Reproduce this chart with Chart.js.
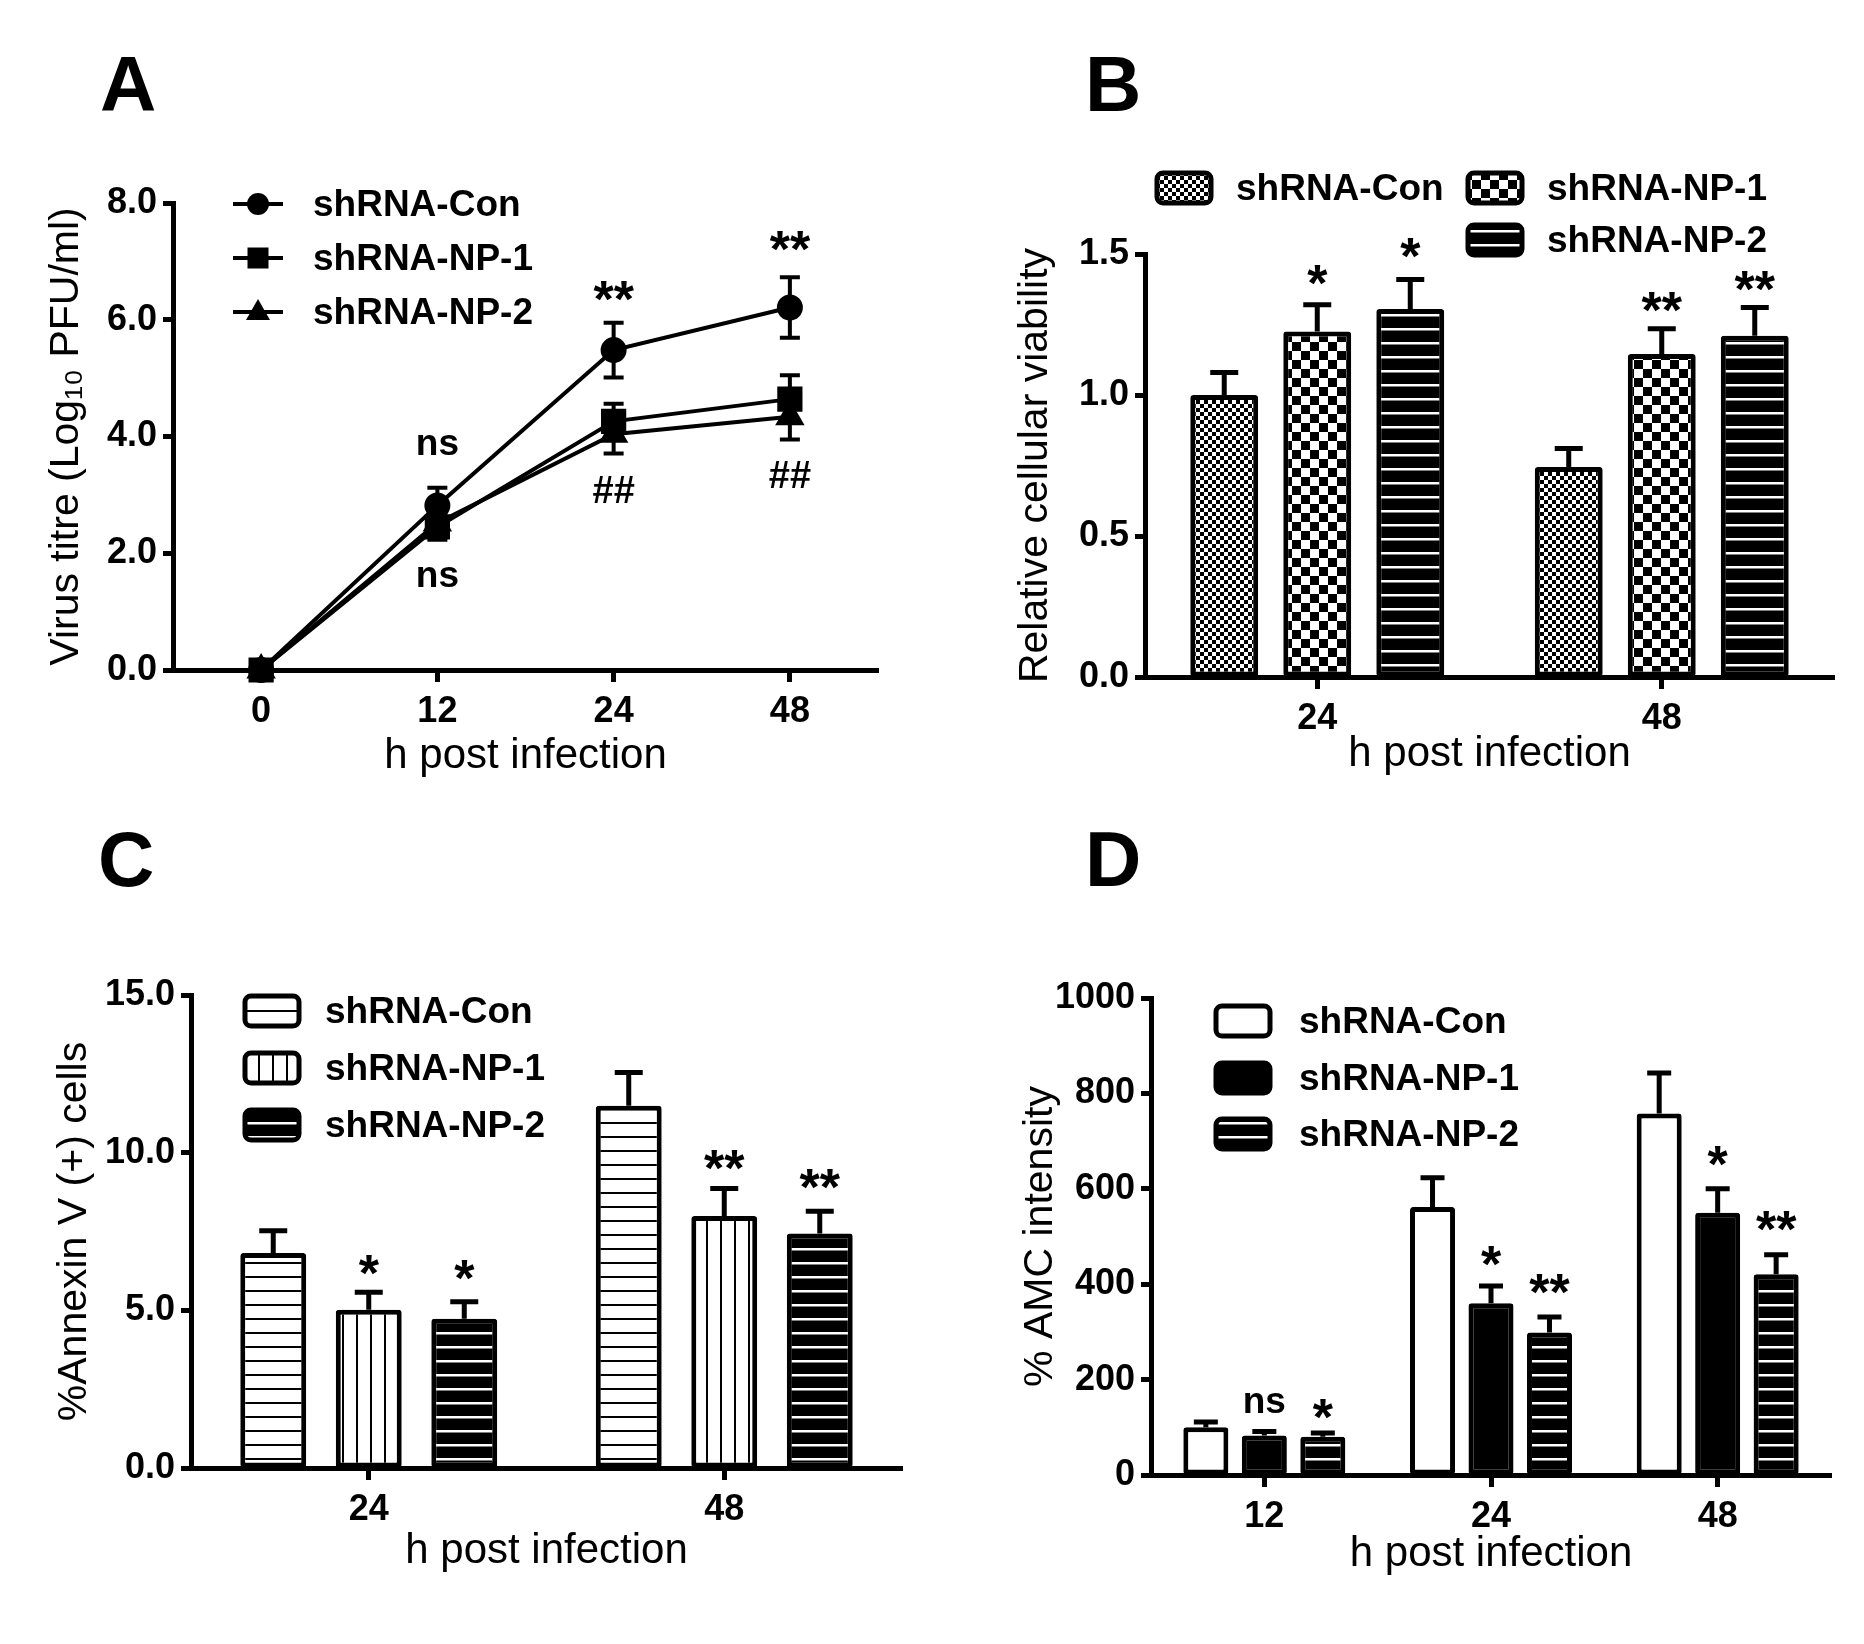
<!doctype html>
<html lang="en">
<head>
<meta charset="utf-8">
<title>shRNA NP knockdown panels</title>
<script src="https://cdn.jsdelivr.net/npm/chart.js@4.4.1/dist/chart.umd.min.js"></script>
<style>
  body { margin: 0; background: #fff; }
  .wrap { position: relative; width: 1864px; height: 1644px; background: #fff; }
  .panel { position: absolute; width: 932px; height: 822px; }
  .letter { position: absolute; font: bold 78px "Liberation Sans", Arial, sans-serif; line-height: 1; color: #000; }
</style>
</head>
<body>
<div class="wrap">
  <div class="panel" style="left:0;top:0"><canvas id="chartA" width="932" height="822"></canvas></div>
  <div class="panel" style="left:932px;top:0"><canvas id="chartB" width="932" height="822"></canvas></div>
  <div class="panel" style="left:0;top:822px"><canvas id="chartC" width="932" height="822"></canvas></div>
  <div class="panel" style="left:932px;top:822px"><canvas id="chartD" width="932" height="822"></canvas></div>
  <div class="letter" style="left:100px;top:45px">A</div>
  <div class="letter" style="left:1085px;top:45px">B</div>
  <div class="letter" style="left:98px;top:820px">C</div>
  <div class="letter" style="left:1085px;top:820px">D</div>
</div>

<script>
const FONT = '"Liberation Sans", Arial, sans-serif';
const seriesNames = ['shRNA-Con', 'shRNA-NP-1', 'shRNA-NP-2'];
const xTitle = 'h post infection';

// A - virus titre
const timesA = ['0', '12', '24', '48'];
const conA = [0, 2.82, 5.48, 6.21];
const np1A = [0, 2.45, 4.26, 4.64];
const np2A = [0, 2.52, 4.04, 4.34];
const errConA = [0, 0.3, 0.47, 0.52];
const errNp1A = [0, 0.22, 0.3, 0.41];
const errNp2A = [0, 0.2, 0.33, 0.39];
const yTicksA = ['0.0', '2.0', '4.0', '6.0', '8.0'];
const marksA = [
  {ds: 0, i: 1, y: 3.85, t: 'ns'}, {ds: 1, i: 1, y: 1.6, t: 'ns'},
  {ds: 0, i: 2, y: 6.5, t: '**'}, {ds: 0, i: 3, y: 7.35, t: '**'},
  {ds: 1, i: 2, y: 3.1, t: '##'}, {ds: 1, i: 3, y: 3.35, t: '##'}
];

// B - cellular viability
const timesB = ['24', '48'];
const conB = [1.0, 0.745];
const np1B = [1.225, 1.145];
const np2B = [1.305, 1.21];
const errConB = [0.08, 0.065];
const errNp1B = [0.095, 0.09];
const errNp2B = [0.105, 0.1];
const yTicksB = ['0.0', '0.5', '1.0', '1.5'];
const marksB = [
  {ds: 1, i: 0, y: 1.425, t: '*'}, {ds: 2, i: 0, y: 1.52, t: '*'},
  {ds: 1, i: 1, y: 1.33, t: '**'}, {ds: 2, i: 1, y: 1.405, t: '**'}
];

// C - annexin V
const timesC = ['24', '48'];
const conC = [6.82, 11.49];
const np1C = [5.02, 7.99];
const np2C = [4.73, 7.44];
const errConC = [0.7, 1.05];
const errNp1C = [0.55, 0.87];
const errNp2C = [0.54, 0.7];
const yTicksC = ['0.0', '5.0', '10.0', '15.0'];
const marksC = [
  {ds: 1, i: 0, y: 6.45, t: '*'}, {ds: 2, i: 0, y: 6.27, t: '*'},
  {ds: 1, i: 1, y: 9.78, t: '**'}, {ds: 2, i: 1, y: 9.17, t: '**'}
];

// D - AMC intensity
const timesD = ['12', '24', '48'];
const conD = [100, 562, 758];
const np1D = [83, 360, 550];
const np2D = [80, 299, 421];
const errConD = [11, 61, 85];
const errNp1D = [8, 36, 50];
const errNp2D = [8, 32, 41];
const yTicksD = ['0', '200', '400', '600', '800', '1000'];
const marksD = [
  {ds: 1, i: 0, y: 150, t: 'ns'}, {ds: 2, i: 0, y: 138, t: '*'},
  {ds: 1, i: 1, y: 460, t: '*'}, {ds: 2, i: 1, y: 400, t: '**'},
  {ds: 1, i: 2, y: 668, t: '*'}, {ds: 2, i: 2, y: 532, t: '**'}
];

// fill patterns for the bars
function makePattern(kind) {
  const c = document.createElement('canvas');
  const x = c.getContext('2d');
  if (kind === 'fineChecker' || kind === 'checker') {
    const s = kind === 'fineChecker' ? 4 : 9;
    c.width = c.height = s * 2;
    x.fillStyle = '#fff'; x.fillRect(0, 0, s * 2, s * 2);
    x.fillStyle = '#000'; x.fillRect(0, 0, s, s); x.fillRect(s, s, s, s);
  } else if (kind === 'whiteLines') {
    c.width = 4; c.height = 14;
    x.fillStyle = '#000'; x.fillRect(0, 0, 4, 14);
    x.fillStyle = '#fff'; x.fillRect(0, 6, 4, 2.5);
  } else if (kind === 'blackLines') {
    c.width = 4; c.height = 14;
    x.fillStyle = '#fff'; x.fillRect(0, 0, 4, 14);
    x.fillStyle = '#000'; x.fillRect(0, 6, 4, 2);
  } else if (kind === 'vLines') {
    c.width = 14; c.height = 4;
    x.fillStyle = '#fff'; x.fillRect(0, 0, 14, 4);
    x.fillStyle = '#000'; x.fillRect(6, 0, 2, 4);
  }
  return x.createPattern(c, 'repeat');
}

function drawMarker(ctx, style, x, y) {
  ctx.beginPath();
  if (style === 'circle') ctx.arc(x, y, 11, 0, Math.PI * 2);
  else if (style === 'rect') ctx.rect(x - 10.5, y - 10.5, 21, 21);
  else { ctx.moveTo(x, y - 13); ctx.lineTo(x + 12, y + 8); ctx.lineTo(x - 12, y + 8); ctx.closePath(); }
  ctx.fill();
}

const errorBars = {
  id: 'errorBars',
  afterDatasetsDraw(chart) {
    const ctx = chart.ctx, ys = chart.scales.y;
    chart.data.datasets.forEach((ds, di) => {
      if (!ds.errors) return;
      chart.getDatasetMeta(di).data.forEach((el, i) => {
        const v = ds.data[i], e = ds.errors[i];
        if (!e) return;
        const top = ys.getPixelForValue(v + e);
        const bot = ys.getPixelForValue(ds.bothSides ? v - e : v);
        ctx.save();
        ctx.strokeStyle = '#000';
        ctx.lineWidth = ds.errWidth;
        ctx.beginPath();
        ctx.moveTo(el.x, bot); ctx.lineTo(el.x, top);
        ctx.moveTo(el.x - ds.capHalf, top); ctx.lineTo(el.x + ds.capHalf, top);
        if (ds.bothSides) { ctx.moveTo(el.x - ds.capHalf, bot); ctx.lineTo(el.x + ds.capHalf, bot); }
        ctx.stroke();
        ctx.restore();
      });
    });
  }
};

const sigMarks = {
  id: 'sigMarks',
  afterDraw(chart, args, o) {
    if (!o.marks) return;
    const ctx = chart.ctx, ys = chart.scales.y;
    ctx.save();
    ctx.fillStyle = '#000';
    ctx.textAlign = 'center';
    ctx.textBaseline = 'alphabetic';
    o.marks.forEach(m => {
      const size = m.t.indexOf('*') >= 0 ? 52 : (m.t === 'ns' ? 37 : 38);
      ctx.font = 'bold ' + size + 'px ' + FONT;
      const el = chart.getDatasetMeta(m.ds).data[m.i];
      const mt = ctx.measureText(m.t);
      const yc = ys.getPixelForValue(m.y);
      ctx.fillText(m.t, el.x, yc + (mt.actualBoundingBoxAscent - mt.actualBoundingBoxDescent) / 2);
    });
    ctx.restore();
  }
};

const panelLegend = {
  id: 'panelLegend',
  afterDraw(chart, args, o) {
    if (!o.spots) return;
    const ctx = chart.ctx;
    ctx.save();
    ctx.font = 'bold 37px ' + FONT;
    ctx.textBaseline = 'middle';
    chart.data.datasets.forEach((ds, i) => {
      const p = o.spots[i];
      ctx.fillStyle = '#000';
      ctx.strokeStyle = '#000';
      if (o.kind === 'line') {
        ctx.lineWidth = 4;
        ctx.beginPath(); ctx.moveTo(p.x - 25, p.y); ctx.lineTo(p.x + 25, p.y); ctx.stroke();
        drawMarker(ctx, ds.pointStyle, p.x, p.y);
        ctx.fillStyle = '#000';
        ctx.fillText(ds.label, p.x + o.gap, p.y + 2);
      } else {
        ctx.beginPath();
        ctx.roundRect(p.x, p.y - 15, 54, 30, 6);
        ctx.fillStyle = ds.backgroundColor;
        ctx.fill();
        ctx.lineWidth = 5;
        ctx.stroke();
        ctx.fillStyle = '#000';
        ctx.fillText(ds.label, p.x + o.gap, p.y + 2);
      }
    });
    ctx.restore();
  }
};

function yAxis(max, step, labels, title, titlePad, width) {
  return {
    min: 0, max: max,
    ticks: {
      stepSize: step, color: '#000', padding: 6,
      font: {family: FONT, size: 36, weight: 'bold'},
      callback: (v, i) => labels[i]
    },
    grid: {display: true, drawOnChartArea: false, drawTicks: true, tickLength: 10, tickWidth: 5, tickColor: '#000'},
    border: {display: true, color: '#000', width: 5},
    title: {display: true, text: title, color: '#000', font: {family: FONT, size: 41}, padding: {top: titlePad, bottom: 0}},
    afterFit: s => { s.width = width; }
  };
}

function xAxis(titlePad, height) {
  return {
    type: 'category', offset: true,
    ticks: {color: '#000', padding: 8, maxRotation: 0, font: {family: FONT, size: 36, weight: 'bold'}},
    grid: {display: true, offset: false, drawOnChartArea: false, drawTicks: true, tickLength: 12, tickWidth: 5, tickColor: '#000'},
    border: {display: true, color: '#000', width: 5},
    title: {display: true, text: xTitle, color: '#000', font: {family: FONT, size: 42}, padding: {top: 0, bottom: titlePad}},
    afterFit: s => { s.height = height; }
  };
}

function baseOptions(pad, scales, marks, legend) {
  return {
    responsive: false, animation: false, devicePixelRatio: 1,
    layout: {padding: {top: pad.top, right: pad.right, left: 0, bottom: 0}},
    scales: scales,
    plugins: {
      legend: {display: false}, tooltip: {enabled: false},
      sigMarks: {marks: marks}, panelLegend: legend
    }
  };
}

function barSet(label, data, errors, fill, bp, cp, capHalf) {
  return {
    label: label, data: data, errors: errors, errWidth: 5, capHalf: capHalf,
    backgroundColor: fill, borderColor: '#000', borderWidth: 5, borderSkipped: false, borderRadius: 3,
    barPercentage: bp, categoryPercentage: cp, clip: false
  };
}

function lineSet(label, data, errors, style, radius) {
  return {
    label: label, data: data, errors: errors, bothSides: true, errWidth: 4, capHalf: 10,
    borderColor: '#000', borderWidth: 4, tension: 0,
    pointStyle: style, pointRadius: radius, pointBackgroundColor: '#000', pointBorderColor: '#000', clip: false
  };
}

const plugins = [errorBars, sigMarks, panelLegend];

// A
new Chart(document.getElementById('chartA'), {
  type: 'line',
  data: {
    labels: timesA,
    datasets: [
      lineSet(seriesNames[0], conA, errConA, 'circle', 11),
      lineSet(seriesNames[1], np1A, errNp1A, 'rect', 15),
      lineSet(seriesNames[2], np2A, errNp2A, 'triangle', 13)
    ]
  },
  options: baseOptions({top: 203, right: 54},
    {x: xAxis(40, 152), y: yAxis(8, 2, yTicksA, 'Virus titre (Log\u2081\u2080 PFU/ml)', 42, 173)},
    marksA,
    {kind: 'line', gap: 55, spots: [{x: 258, y: 204}, {x: 258, y: 258}, {x: 258, y: 312}]}),
  plugins: plugins
});

// B
new Chart(document.getElementById('chartB'), {
  type: 'bar',
  data: {
    labels: timesB,
    datasets: [
      barSet(seriesNames[0], conB, errConB, makePattern('fineChecker'), 0.73, 0.81, 14),
      barSet(seriesNames[1], np1B, errNp1B, makePattern('checker'), 0.73, 0.81, 14),
      barSet(seriesNames[2], np2B, errNp2B, makePattern('whiteLines'), 0.73, 0.81, 14)
    ]
  },
  options: baseOptions({top: 254, right: 30},
    {x: xAxis(42, 145), y: yAxis(1.5, 0.5, yTicksB, 'Relative cellular viability', 79, 213)},
    marksB,
    {kind: 'box', gap: 79, spots: [{x: 225, y: 188}, {x: 536, y: 188}, {x: 536, y: 240}]}),
  plugins: plugins
});

// C
new Chart(document.getElementById('chartC'), {
  type: 'bar',
  data: {
    labels: timesC,
    datasets: [
      barSet(seriesNames[0], conC, errConC, makePattern('blackLines'), 0.69, 0.806, 14),
      barSet(seriesNames[1], np1C, errNp1C, makePattern('vLines'), 0.69, 0.806, 14),
      barSet(seriesNames[2], np2C, errNp2C, makePattern('whiteLines'), 0.69, 0.806, 14)
    ]
  },
  options: baseOptions({top: 173, right: 30},
    {x: xAxis(67, 176), y: yAxis(15, 5, yTicksC, '%Annexin V (+) cells', 50, 191)},
    marksC,
    {kind: 'box', gap: 80, spots: [{x: 245, y: 189}, {x: 245, y: 246}, {x: 245, y: 303}]}),
  plugins: plugins
});

// D
new Chart(document.getElementById('chartD'), {
  type: 'bar',
  data: {
    labels: timesD,
    datasets: [
      barSet(seriesNames[0], conD, errConD, '#fff', 0.77, 0.774, 12),
      barSet(seriesNames[1], np1D, errNp1D, '#000', 0.77, 0.774, 12),
      barSet(seriesNames[2], np2D, errNp2D, makePattern('whiteLines'), 0.77, 0.774, 12)
    ]
  },
  options: baseOptions({top: 176, right: 33},
    {x: xAxis(64, 169), y: yAxis(1000, 200, yTicksD, '% AMC intensity', 84, 219)},
    marksD,
    {kind: 'box', gap: 83, spots: [{x: 284, y: 199}, {x: 284, y: 256}, {x: 284, y: 312}]}),
  plugins: plugins
});
</script>
</body>
</html>
